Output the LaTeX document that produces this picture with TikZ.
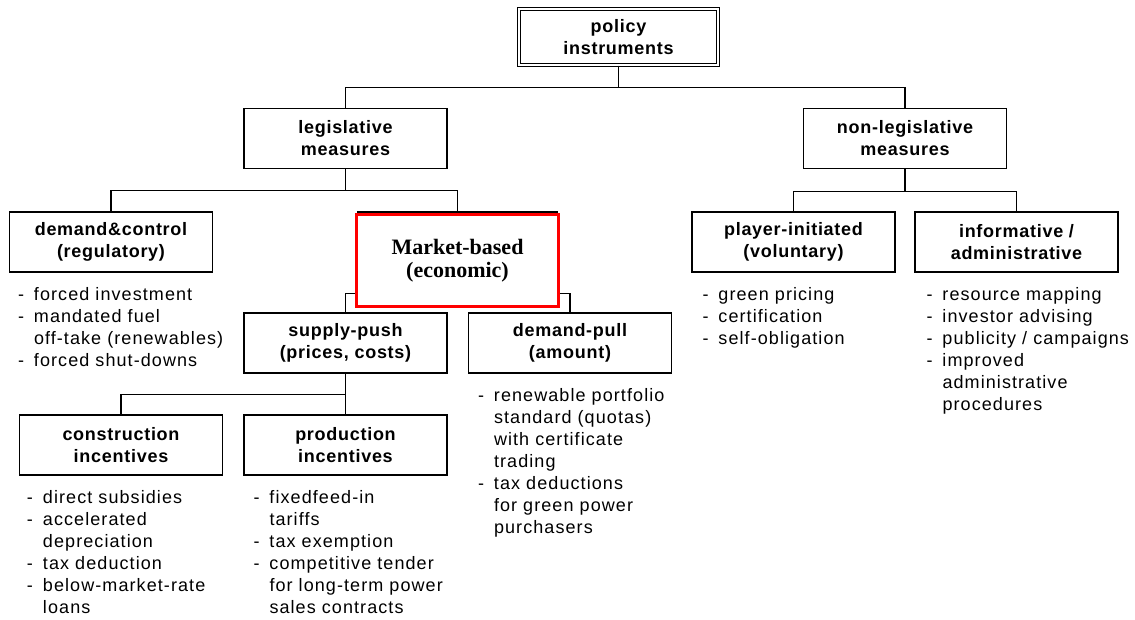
\documentclass[tikz,border=0pt]{standalone}
\usepackage{fontspec}
\setmainfont{Liberation Sans}
\newfontfamily\boxfont[LetterSpace=4]{Liberation Sans}
\newfontfamily\listfont[LetterSpace=6]{Liberation Sans}
\newfontfamily\mktfont{Liberation Serif}
\usepackage{tikz}
\usetikzlibrary{positioning}

% list lines: item with a dash, continuation indented
\newcommand{\itm}[1]{\strut\makebox[16pt][l]{-}#1}
\newcommand{\cnt}[1]{\strut\hspace*{16pt}#1}

\begin{document}
\begin{tikzpicture}[
    x=1pt, y=-1pt,
    box/.style={draw, rectangle, line width=1.4pt, minimum width=203pt, minimum height=60pt, align=center, inner sep=0pt, fill=white, font=\boxfont\bfseries\fontsize{18}{22}\selectfont},
    topbox/.style={box, double, double distance=2pt, line width=1.2pt, minimum width=199pt, minimum height=56pt},
    mktbox/.style={draw=red, rectangle, line width=3pt, minimum width=202pt, minimum height=92pt, align=center, fill=white, font=\mktfont\bfseries\fontsize{22}{23}\selectfont},
    list/.style={align=left, inner sep=0pt, font=\listfont\fontsize{18}{22}\selectfont},
    link/.style={draw, line width=1.4pt},
]
\useasboundingbox (0,0) rectangle (1135,619);

% === Boxes ===
\node[topbox] (policy) at (618.5,37) {policy\\instruments};

\node[box] (legis) at (345.5,138.5) {legislative\\measures};
\node[box] (nonleg) at (905,138.5) {non-legislative\\measures};

\node[box] (dc) at (111,242) {demand\&control\\(regulatory)};
\node[box, minimum width=199pt] (econ) at (457.5,242) {};
\node[box] (player) at (793.5,242) {player-initiated\\(voluntary)};
\node[box] (info) at (1016.5,242) {informative /\\administrative};

\node[box] (supply) at (345.5,343) {supply-push\\(prices, costs)};
\node[box] (dpull) at (570,343) {demand-pull\\(amount)};

\node[box] (constr) at (121,445) {construction\\incentives};
\node[box] (prod) at (345.5,445) {production\\incentives};

% === Tree links ===
\draw[link] (policy.south) -- ++(0,22) -| (legis.north);
\draw[link] (policy.south) ++(0,22) -| (nonleg.north);
\draw[link] (legis.south) -- ++(0,21) -| (dc.north);
\draw[link] (legis.south) ++(0,21) -| (econ.north);
\draw[link] (nonleg.south) -- ++(0,22) -| (player.north);
\draw[link] (nonleg.south) ++(0,22) -| (info.north);
\draw[link] (econ.south) -- ++(0,21) -| (supply.north);
\draw[link] (econ.south) ++(0,21) -| (dpull.north);
\draw[link] (supply.south) -- ++(0,21) -| (constr.north);
\draw[link] (supply.south) ++(0,21) -| (prod.north);

% --- highlighted box on top ---
\node[mktbox] (mkt) at (457.5,260.5) {Market-based\\(economic)};

% === Lists ===
\node[list, below right=12pt and 9pt of dc.south west] (dclist) {\itm{forced investment}\\ \itm{mandated fuel}\\ \cnt{off-take (renewables)}\\ \itm{forced shut-downs}};
\node[list, below right=12pt and 8pt of constr.south west] (constrlist) {\itm{direct subsidies}\\ \itm{accelerated}\\ \cnt{depreciation}\\ \itm{tax deduction}\\ \itm{below-market-rate}\\ \cnt{loans}};
\node[list, below right=12pt and 10pt of prod.south west] (prodlist) {\itm{fixedfeed-in}\\ \cnt{tariffs}\\ \itm{tax exemption}\\ \itm{competitive tender}\\ \cnt{for long-term power}\\ \cnt{sales contracts}};
\node[list, below right=12pt and 10pt of dpull.south west] (dpulllist) {\itm{renewable portfolio}\\ \cnt{standard (quotas)}\\ \cnt{with certificate}\\ \cnt{trading}\\ \itm{tax deductions}\\ \cnt{for green power}\\ \cnt{purchasers}};
\node[list, below right=12pt and 11pt of player.south west] (playerlist) {\itm{green pricing}\\ \itm{certification}\\ \itm{self-obligation}};
\node[list, below right=12pt and 12pt of info.south west] (infolist) {\itm{resource mapping}\\ \itm{investor advising}\\ \itm{publicity / campaigns}\\ \itm{improved}\\ \cnt{administrative}\\ \cnt{procedures}};

\end{tikzpicture}
\end{document}
